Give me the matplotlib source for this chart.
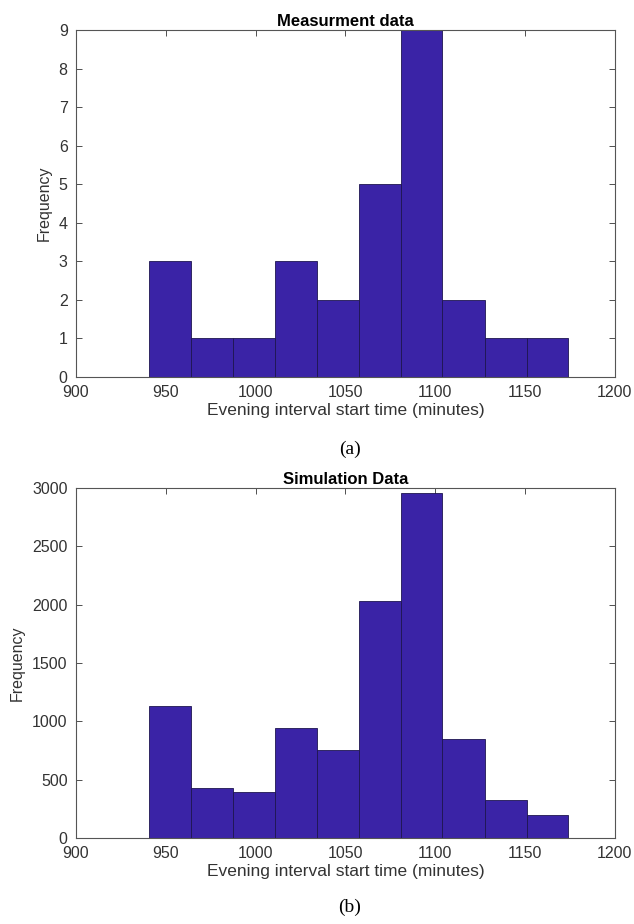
import matplotlib
matplotlib.use("Agg")
import matplotlib.pyplot as plt
import numpy as np

# ---- data ----
bin_edges = [940.5, 963.9, 987.2, 1010.6, 1034.0, 1057.3, 1080.7, 1104.0, 1127.4, 1150.8, 1174.1]
measured_counts = [3, 1, 1, 3, 2, 5, 9, 2, 1, 1]
simulated_counts = [1135, 425, 395, 945, 755, 2030, 2955, 848, 323, 195]

x_ticks = [900, 950, 1000, 1050, 1100, 1150, 1200]
y_ticks_top = [0, 1, 2, 3, 4, 5, 6, 7, 8, 9]
y_ticks_bottom = [0, 500, 1000, 1500, 2000, 2500, 3000]

titles = ["Measurment data", "Simulation Data"]
captions = ["(a)", "(b)"]
xlabel = "Evening interval start time (minutes)"
ylabel = "Frequency"

bar_color = "#3a23a6"
text_color = "#333333"

plt.rcParams["font.family"] = ["Liberation Sans", "DejaVu Sans"]

fig = plt.figure(figsize=(6.34, 9.24), dpi=100)
ax1 = fig.add_axes([0.1199, 0.592, 0.850, 0.3755])
ax2 = fig.add_axes([0.1199, 0.0931, 0.850, 0.3788])

def draw(ax, counts, yticks, ymax, title):
    edges = np.array(bin_edges)
    ax.bar(edges[:-1], counts, width=np.diff(edges), align="edge",
           color=bar_color, edgecolor="#1e1550", linewidth=0.6, zorder=2)
    ax.set_xlim(900, 1200)
    ax.set_ylim(0, ymax)
    ax.set_xticks(x_ticks)
    ax.set_yticks(yticks)
    ax.tick_params(direction="in", top=True, right=True, length=4, width=0.6,
                   labelsize=11.5, colors=text_color)
    ax.tick_params(axis="x", pad=6)
    ax.tick_params(axis="y", pad=6)
    for s in ax.spines.values():
        s.set_color("#555555")
        s.set_linewidth(0.8)
    ax.set_xlabel(xlabel, fontsize=12.5, color=text_color, labelpad=2)
    ax.set_ylabel(ylabel, fontsize=11.5, color=text_color, labelpad=5)
    ax.set_title(title, fontsize=12, fontweight="bold", color="black", pad=3)

draw(ax1, measured_counts, y_ticks_top, 9, titles[0])
draw(ax2, simulated_counts, y_ticks_bottom, 3000, titles[1])

fig.text(350 / 634, 1 - 449 / 924, captions[0], ha="center", va="center",
         fontsize=14, family=["Liberation Serif", "DejaVu Serif"], color="black")
fig.text(350 / 634, 1 - 907 / 924, captions[1], ha="center", va="center",
         fontsize=14, family=["Liberation Serif", "DejaVu Serif"], color="black")

fig.savefig("out.png", dpi=100, facecolor="white")
